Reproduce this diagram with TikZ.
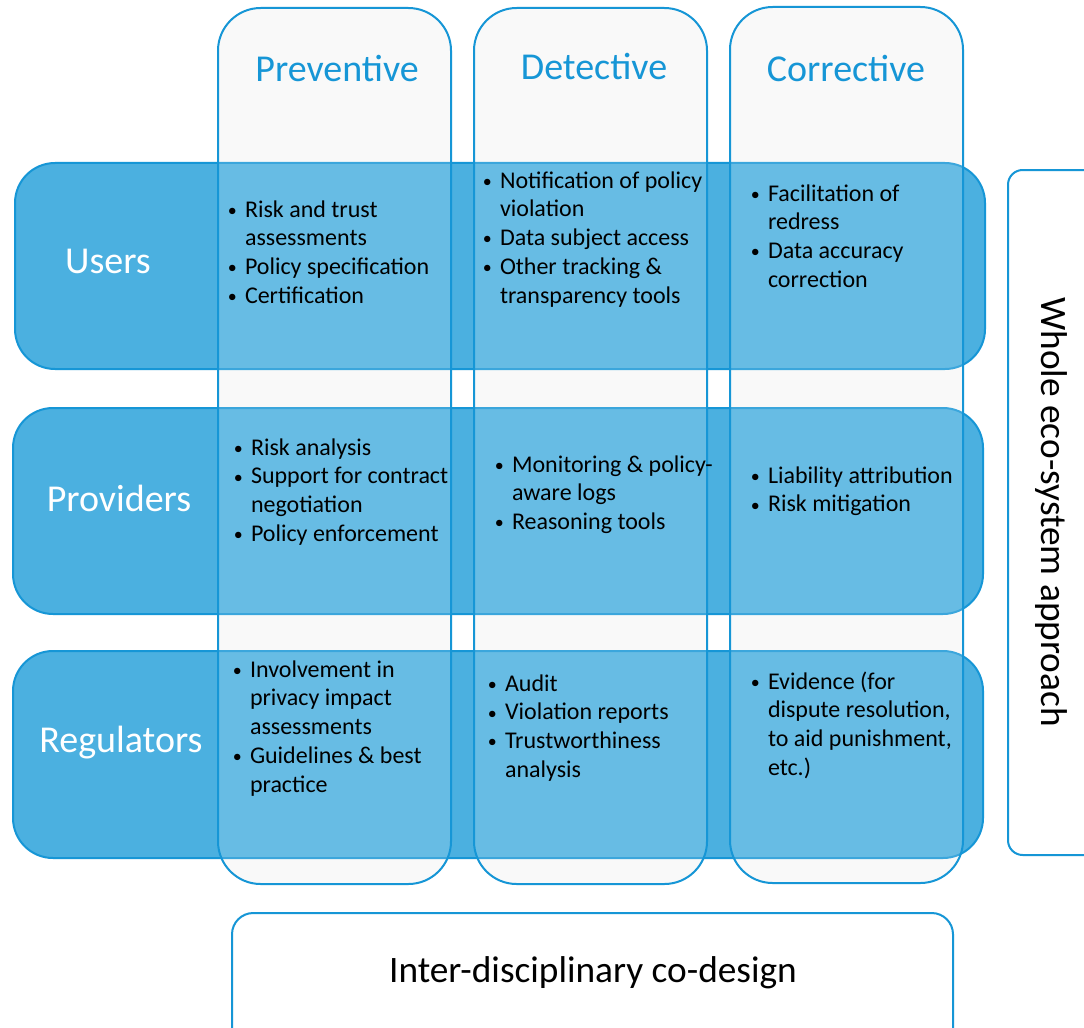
\documentclass[tikz,border=0pt]{standalone}
\usepackage{fontspec}
\usepackage{graphicx}
\setmainfont{Carlito}
\usetikzlibrary{fit}
\definecolor{hpblue}{RGB}{22,150,214}
\definecolor{rowblue}{RGB}{75,176,224}
\definecolor{colgray}{RGB}{249,249,249}
\newcommand\itm[1]{\llap{\makebox[19pt][c]{\raisebox{0.6pt}{\scalebox{0.75}{\textbullet}}}}#1}
\begin{document}
\begin{tikzpicture}[x=0.75pt,y=-0.75pt, line width=1.5pt,
 colfill/.style={fit={#1}, inner sep=0pt, fill=colgray, rounded corners=32pt},
 colbox/.style={fit={#1}, inner sep=0pt, draw=hpblue, fill=white, fill opacity=0.16, rounded corners=32pt},
 rowbox/.style={fit={#1}, inner sep=0pt, draw=hpblue, fill=rowblue, rounded corners=30pt},
 plainbox/.style={fit={#1}, inner sep=0pt, draw=hpblue, fill=white},
 head/.style={text=hpblue, font=\fontsize{28.5}{34}\selectfont, anchor=base, inner sep=0pt},
 rowlab/.style={text=white, font=\fontsize{28.5}{34}\selectfont, anchor=base, inner sep=0pt},
 cell/.style={anchor=base west, inner sep=0pt, font=\fontsize{18}{21.6}\selectfont, text=black},
 bigtxt/.style={font=\fontsize{28}{34}\selectfont, text=black, inner sep=0pt},
]
\useasboundingbox (0,0) rectangle (1084,1027);
\clip (0,0) rectangle (1084,1027);
\fill[white] (0,0) rectangle (1084,1027);

% column backgrounds
\node[colfill={(218,8) (451,884)}] (bgP) {};
\node[colfill={(474,8) (707,884)}] (bgD) {};
\node[colfill={(730,7) (963,883)}] (bgC) {};

% rows
\node[rowbox={(15,163) (985,369)}] (rowU) {};
\node[rowbox={(13,408) (983,614)}] (rowP) {};
\node[rowbox={(13,651) (983,858)}] (rowR) {};

% column overlays
\node[colbox={(218,8) (451,884)}] (colP) {};
\node[colbox={(474,8) (707,884)}] (colD) {};
\node[colbox={(730,7) (963,883)}] (colC) {};

% side and bottom boxes
\node[plainbox={(1008,170) (1130,855)}, rounded corners=11pt] (ecoBox) {};
\node[plainbox={(232,913) (953,1070)}, rounded corners=16pt] (idBox) {};

% headers
\node[head] (hP) at (337,82) {Preventive};
\node[head] (hD) at (594,80) {Detective};
\node[head] (hC) at (846,82) {Corrective};

% row labels
\node[rowlab] (lU) at (108,273) {Users};
\node[rowlab] (lP) at (119,511) {Providers};
\node[rowlab] (lR) at (121,752) {Regulators};

% cells
\node[cell] (uP) at (244,217) {\begin{tabular}[t]{@{}l@{}}\itm{Risk and trust}\\ assessments\\ \itm{Policy specification}\\ \itm{Certification}\end{tabular}};
\node[cell] (uD) at (499,188) {\begin{tabular}[t]{@{}l@{}}\itm{Notification of policy}\\ violation\\ \itm{Data subject access}\\ \itm{Other tracking \&}\\ transparency tools\end{tabular}};
\node[cell] (uC) at (767,201) {\begin{tabular}[t]{@{}l@{}}\itm{Facilitation of}\\ redress\\ \itm{Data accuracy}\\ correction\end{tabular}};

\node[cell] (pP) at (250,455) {\begin{tabular}[t]{@{}l@{}}\itm{Risk analysis}\\ \itm{Support for contract}\\ negotiation\\ \itm{Policy enforcement}\end{tabular}};
\node[cell] (pD) at (511,472) {\begin{tabular}[t]{@{}l@{}}\itm{Monitoring \& policy-}\\ aware logs\\ \itm{Reasoning tools}\end{tabular}};
\node[cell] (pC) at (767,483) {\begin{tabular}[t]{@{}l@{}}\itm{Liability attribution}\\ \itm{Risk mitigation}\end{tabular}};

\node[cell] (rP) at (249,677) {\begin{tabular}[t]{@{}l@{}}\itm{Involvement in}\\ privacy impact\\ assessments\\ \itm{Guidelines \& best}\\ practice\end{tabular}};
\node[cell] (rD) at (504,691) {\begin{tabular}[t]{@{}l@{}}\itm{Audit}\\ \itm{Violation reports}\\ \itm{Trustworthiness}\\ analysis\end{tabular}};
\node[cell] (rC) at (767,689) {\begin{tabular}[t]{@{}l@{}}\itm{Evidence (for}\\ dispute resolution,\\ to aid punishment,\\ etc.)\end{tabular}};

% side and bottom texts
\node[bigtxt, rotate=-90] (eco) at (1051,512) {Whole eco-system approach};
\node[bigtxt] (idc) at (593,973) {Inter-disciplinary co-design};
\end{tikzpicture}
\end{document}
